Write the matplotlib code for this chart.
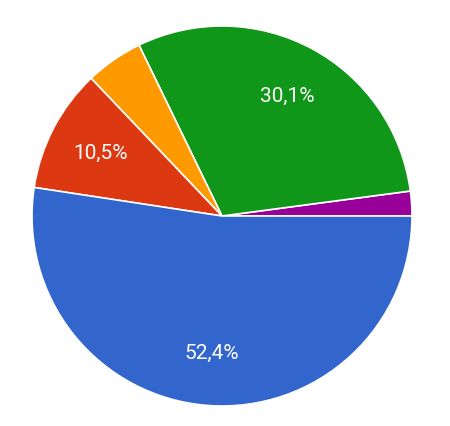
import matplotlib.pyplot as plt

plt.rcParams['font.family'] = ['Roboto', 'DejaVu Sans']

labels = ['Purple', 'Green', 'Orange', 'Red', 'Blue']
values = [2.1, 30.1, 4.9, 10.5, 52.4]
colors = ['#990099', '#109618', '#ff9900', '#dc3912', '#3366cc']
shown = ['30,1%', '10,5%', '52,4%']

fig = plt.figure(figsize=(4.5, 4.27), dpi=100)
ax = fig.add_axes([(222 - 190) / 450, (427 - 217 - 190) / 427, 380 / 450, 380 / 427])

def fmt(p):
    s = f"{p:.1f}".replace('.', ',') + '%'
    return s if s in shown else ''

wedges, texts, autotexts = ax.pie(values, colors=colors, startangle=0, counterclock=True,
                                  autopct=fmt, pctdistance=0.72, frame=False,
                                  wedgeprops=dict(edgecolor='white', linewidth=1.2))
for t in autotexts:
    t.set_color('white')
    t.set_fontsize(15)
ax.set_xlim(-1, 1)
ax.set_ylim(-1, 1)
ax.set_aspect('equal')
ax.axis('off')
fig.savefig('out.png', dpi=100)
